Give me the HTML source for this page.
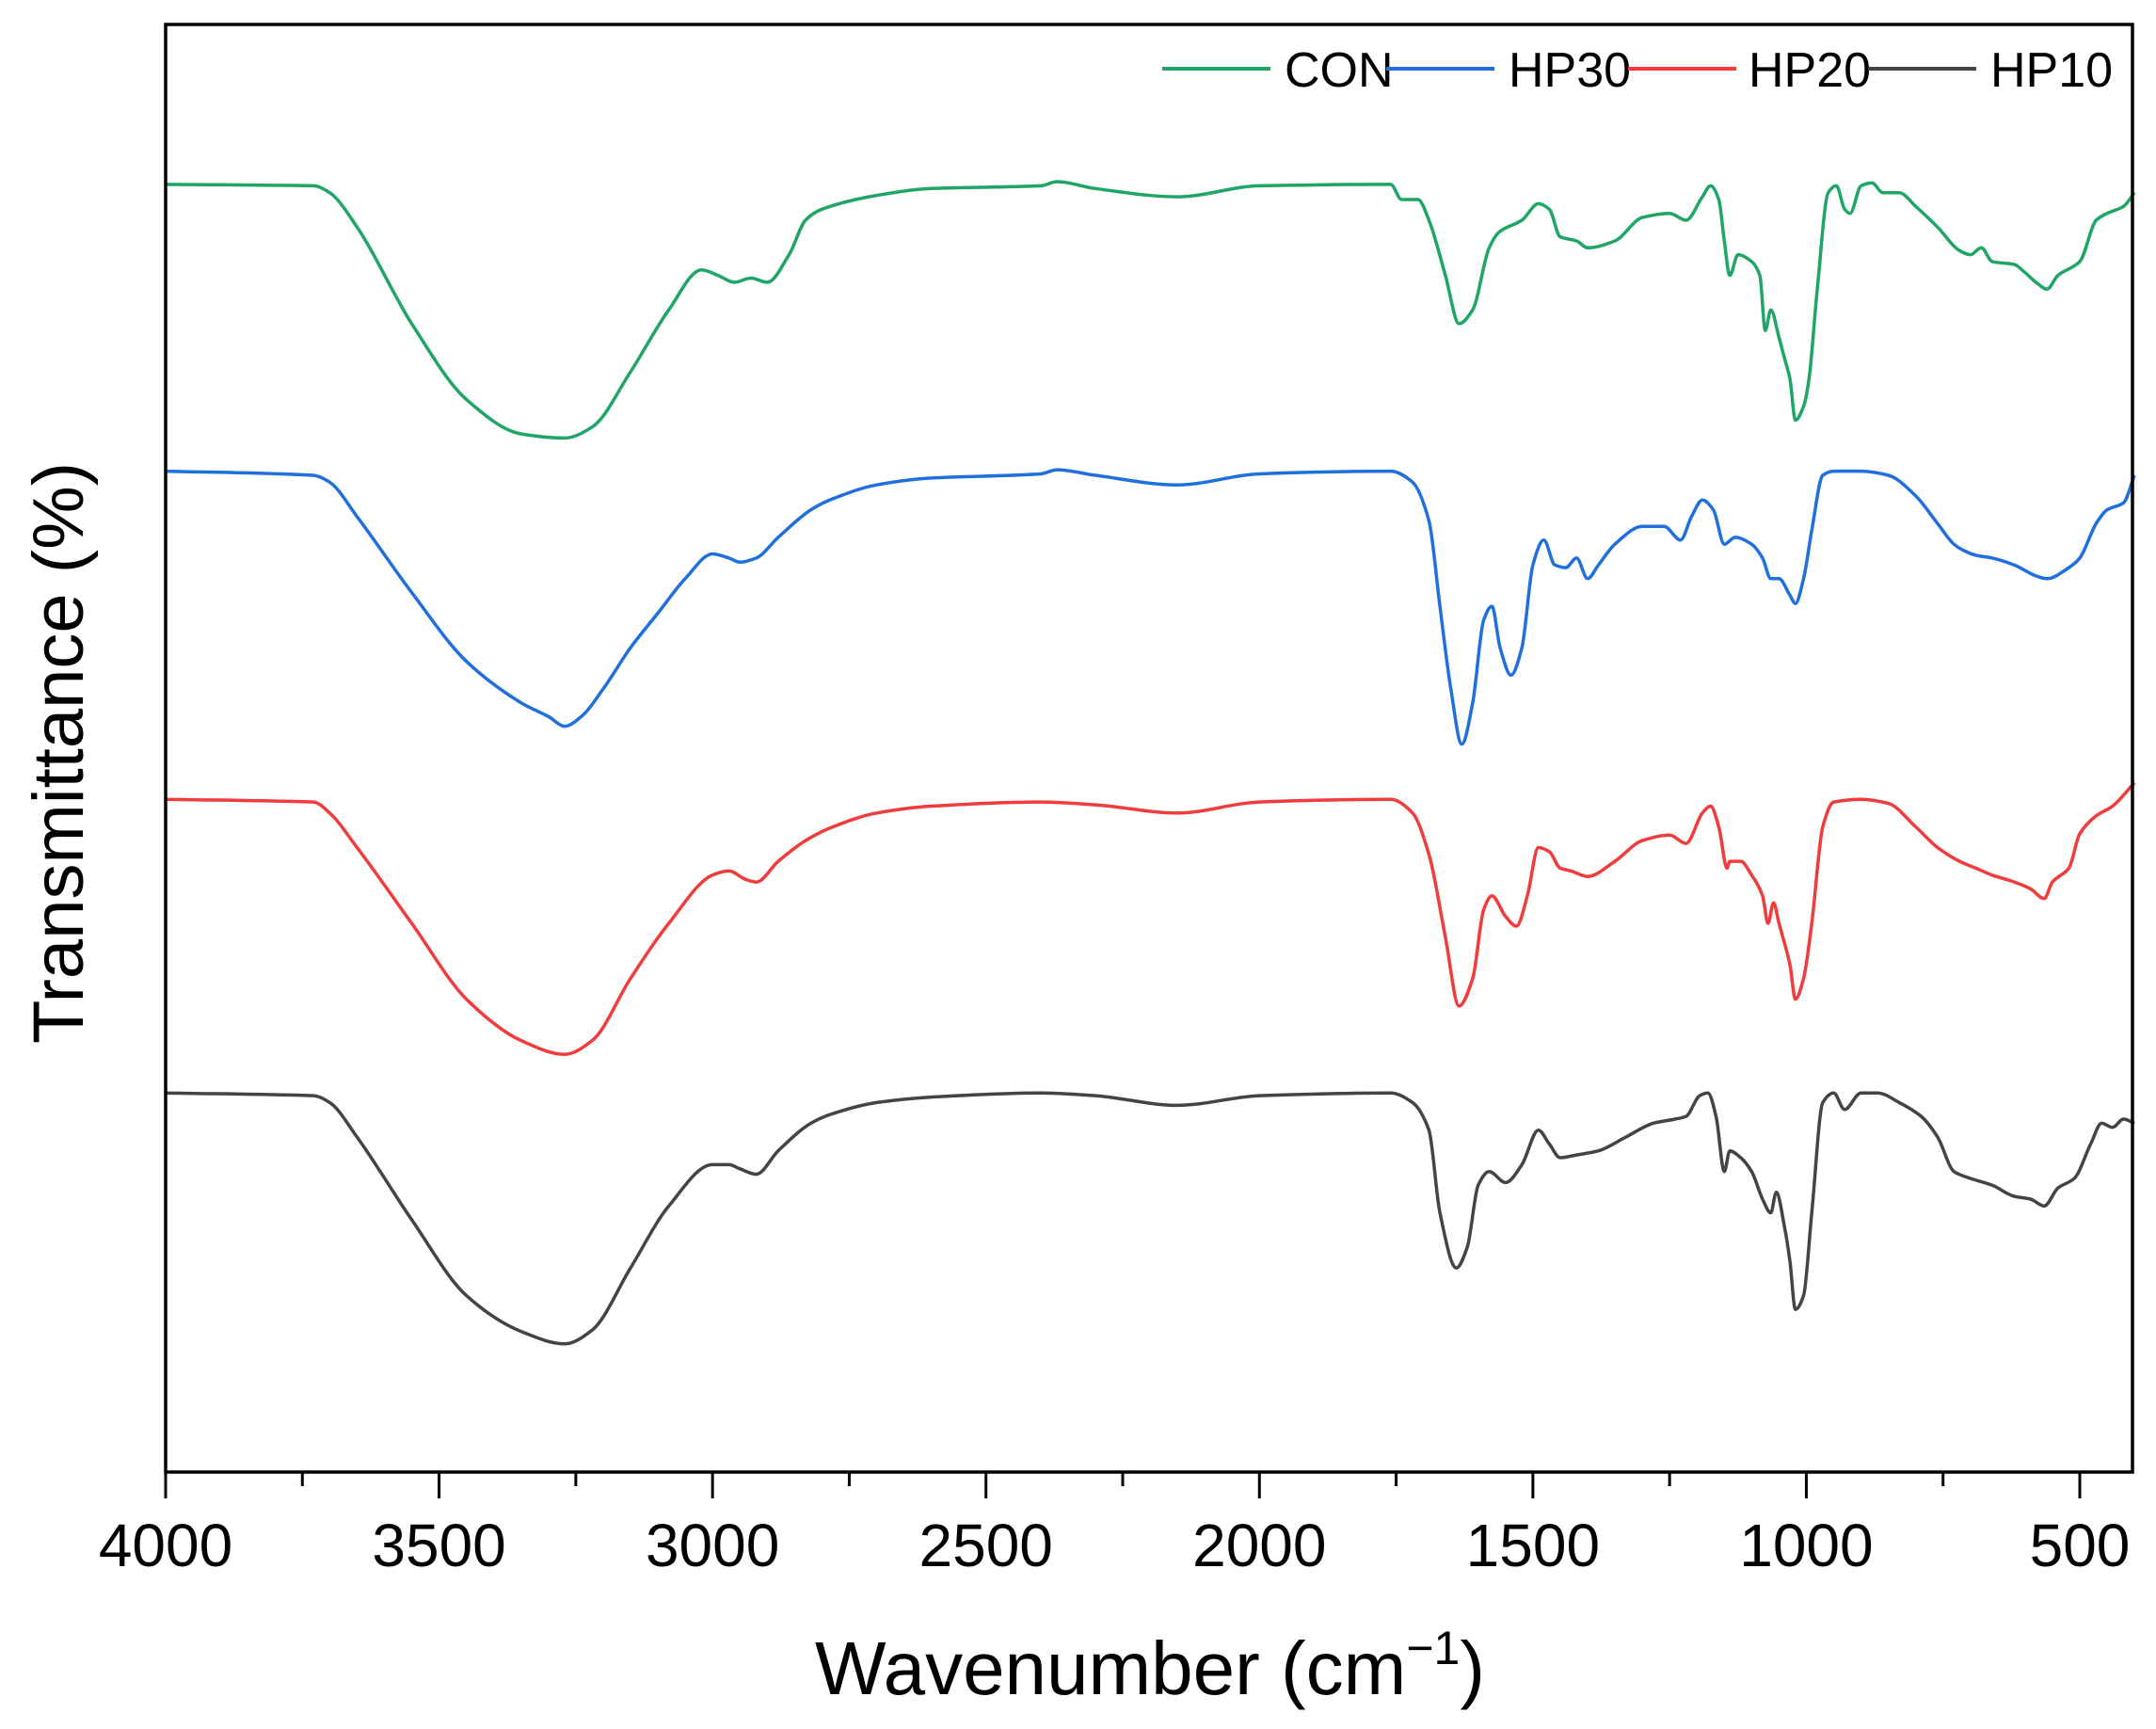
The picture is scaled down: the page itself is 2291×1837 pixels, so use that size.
<!DOCTYPE html>
<html><head><meta charset="utf-8"><style>
html,body{margin:0;padding:0;background:#fff;}
svg{display:block;font-family:"Liberation Sans",Arial,sans-serif;}
</style></head><body>
<svg id="chart" width="2291" height="1837" viewBox="0 0 2291 1837">
<rect x="0" y="0" width="2291" height="1837" fill="#fff"/>
<g id="series"></g>
<g id="axes"></g>
<text x="1222" y="1800" font-size="80" text-anchor="middle" fill="#000">Wavenumber (cm<tspan dy="-32" font-size="50">−1</tspan><tspan dy="32">)</tspan></text>
<text transform="translate(88,800) rotate(-90)" font-size="76" text-anchor="middle" fill="#000">Transmittance (%)</text>
<g id="legend"></g>
</svg>
<script>
// x domain: wavenumber; y values: vertical position in plot units (0 = top of frame, 1050 = bottom)
const xTicksMajor = [4000,3500,3000,2500,2000,1500,1000,500];
const xTicksMinor = [3750,3250,2750,2250,1750,1250,750];
const seriesNames = ["CON","HP30","HP20","HP10"];
const seriesColors = ["#1fa565","#1f6fdf","#f03c3c","#444444"];
const conData = [[4000,134],[3730,135],[3700,140],[3650,165],[3550,235],[3450,290],[3350,315],[3270,318],[3220,310],[3150,270],[3080,225],[3020,196],[2990,200],[2960,205],[2930,202],[2900,205],[2860,185],[2830,160],[2800,152],[2700,142],[2600,137],[2400,135],[2370,132],[2300,137],[2150,143],[2000,135],[1760,134],[1740,145],[1710,145],[1690,160],[1660,200],[1635,235],[1610,225],[1580,180],[1560,168],[1520,160],[1490,148],[1470,152],[1450,172],[1420,175],[1400,180],[1350,175],[1300,158],[1250,155],[1220,160],[1190,143],[1175,135],[1160,145],[1150,175],[1140,200],[1125,185],[1100,190],[1085,200],[1075,240],[1065,225],[1050,245],[1040,260],[1030,275],[1020,305],[1005,295],[995,275],[980,210],[960,140],[945,135],[930,152],[920,155],[900,135],[880,133],[860,140],[830,140],[800,150],[760,165],[720,182],[700,185],[680,180],[660,190],[620,192],[600,198],[580,205],[560,210],[540,200],[500,190],[470,160],[450,155],[420,150],[400,140]];
const hp30Data = [[4000,342],[3730,345],[3700,350],[3650,375],[3550,430],[3450,480],[3350,510],[3300,520],[3270,527],[3240,520],[3200,500],[3150,470],[3100,445],[3050,420],[3000,402],[2970,405],[2950,408],[2920,405],[2880,390],[2820,370],[2780,362],[2700,352],[2600,347],[2400,344],[2370,341],[2300,345],[2150,352],[2000,344],[1760,342],[1720,350],[1690,378],[1670,440],[1650,500],[1630,540],[1610,510],[1590,450],[1575,440],[1560,470],[1540,490],[1520,470],[1500,410],[1480,392],[1460,410],[1440,412],[1420,405],[1400,420],[1380,410],[1350,395],[1300,382],[1260,382],[1230,392],[1210,375],[1190,363],[1170,370],[1150,395],[1130,390],[1100,395],[1080,405],[1065,420],[1050,420],[1030,432],[1020,438],[1005,420],[990,385],[970,345],[950,342],[900,342],[850,345],[800,360],[760,380],[730,395],[710,400],[690,403],[660,405],[620,410],[580,418],[560,420],[520,412],[500,405],[470,380],[450,370],[420,365],[400,345]];
const hp20Data = [[4000,580],[3730,582],[3700,590],[3650,615],[3550,670],[3450,725],[3350,755],[3270,765],[3220,755],[3150,710],[3080,670],[3000,635],[2970,632],[2940,638],[2920,640],[2880,625],[2830,610],[2780,600],[2700,590],[2600,585],[2400,582],[2300,584],[2150,590],[2000,582],[1760,580],[1720,590],[1690,620],[1660,680],[1635,730],[1610,710],[1590,660],[1575,650],[1550,665],[1530,672],[1510,650],[1490,615],[1470,618],[1450,630],[1430,632],[1400,636],[1350,625],[1300,610],[1250,606],[1220,612],[1190,590],[1175,585],[1160,600],[1145,630],[1140,625],[1120,625],[1100,635],[1080,650],[1070,670],[1060,655],[1050,670],[1030,700],[1020,725],[1005,710],[990,670],[970,600],[950,582],[900,580],[850,583],[800,600],[760,615],[720,625],[690,630],[660,635],[620,640],[590,645],[565,652],[550,640],[520,630],[500,605],[470,592],[440,585],[400,568]];
const hp10Data = [[4000,793],[3730,795],[3700,800],[3650,825],[3550,885],[3450,940],[3350,966],[3270,975],[3220,965],[3150,920],[3080,875],[3000,845],[2970,845],[2950,848],[2920,852],[2880,835],[2820,815],[2780,808],[2700,800],[2600,796],[2400,793],[2300,795],[2150,802],[2000,795],[1760,793],[1720,800],[1690,820],[1670,880],[1640,920],[1620,905],[1600,860],[1580,850],[1550,858],[1520,845],[1490,820],[1470,830],[1450,840],[1420,838],[1380,835],[1330,825],[1280,815],[1240,812],[1220,810],[1195,795],[1180,793],[1165,810],[1150,850],[1140,835],[1120,840],[1100,850],[1080,870],[1065,880],[1055,865],[1040,890],[1030,915],[1020,950],[1005,940],[990,880],[970,800],[950,793],[930,805],[900,793],[870,793],[830,800],[790,810],[760,825],[730,850],[700,855],[660,860],[620,868],[590,870],[565,875],[540,862],[510,855],[480,830],[460,815],[440,818],[420,812],[400,815]];

const NS = "http://www.w3.org/2000/svg";
const L = 176, R = 2266, T = 26, B = 1564;
const xScale = w => L + (4000 - w) * (2210 - 176) / 3500;
const yScale = v => T + (v - 18) * (B - T) / 1050;

function slopeAt(pts, i) {
  const n = pts.length;
  if (i === 0) return (pts[1][1] - pts[0][1]) / (pts[1][0] - pts[0][0]);
  if (i === n - 1) return (pts[n-1][1] - pts[n-2][1]) / (pts[n-1][0] - pts[n-2][0]);
  const s0 = (pts[i][1] - pts[i-1][1]) / (pts[i][0] - pts[i-1][0]);
  const s1 = (pts[i+1][1] - pts[i][1]) / (pts[i+1][0] - pts[i][0]);
  if (s0 * s1 <= 0) return 0;
  return 2 / (1 / s0 + 1 / s1);
}
function smoothPath(pts) {
  let d = 'M' + pts[0][0].toFixed(1) + ',' + pts[0][1].toFixed(1);
  for (let i = 0; i < pts.length - 1; i++) {
    const p1 = pts[i], p2 = pts[i + 1];
    const dx = (p2[0] - p1[0]) / 3;
    const m1 = slopeAt(pts, i), m2 = slopeAt(pts, i + 1);
    d += ' C' + (p1[0] + dx).toFixed(1) + ',' + (p1[1] + m1 * dx).toFixed(1) + ' ' + (p2[0] - dx).toFixed(1) + ',' + (p2[1] - m2 * dx).toFixed(1) + ' ' + p2[0].toFixed(1) + ',' + p2[1].toFixed(1);
  }
  return d;
}

const sg = document.getElementById('series');
[conData, hp30Data, hp20Data, hp10Data].forEach((data, i) => {
  const p = document.createElementNS(NS, 'path');
  p.setAttribute('d', smoothPath(data.map(d => [xScale(d[0]), yScale(d[1])])));
  p.setAttribute('fill', 'none');
  p.setAttribute('stroke', seriesColors[i]);
  p.setAttribute('stroke-width', '3.5');
  p.setAttribute('stroke-linejoin', 'round');
  
  
  sg.appendChild(p);
});

const ag = document.getElementById('axes');
const frame = document.createElementNS(NS, 'rect');
frame.setAttribute('x', L); frame.setAttribute('y', T);
frame.setAttribute('width', R - L); frame.setAttribute('height', B - T);
frame.setAttribute('fill', 'none'); frame.setAttribute('stroke', '#000'); frame.setAttribute('stroke-width', '3.5');


ag.appendChild(frame);
xTicksMajor.forEach(t => {
  const x = xScale(t);
  const ln = document.createElementNS(NS, 'line');
  ln.setAttribute('x1', x); ln.setAttribute('x2', x); ln.setAttribute('y1', B); ln.setAttribute('y2', B + 28);
  ln.setAttribute('stroke', '#000'); ln.setAttribute('stroke-width', '3');
  
  
  ag.appendChild(ln);
  const tx = document.createElementNS(NS, 'text');
  tx.setAttribute('x', x); tx.setAttribute('y', 1664);
  tx.setAttribute('font-size', '64'); tx.setAttribute('text-anchor', 'middle');
  tx.textContent = t;
  
  
  ag.appendChild(tx);
});
xTicksMinor.forEach(t => {
  const x = xScale(t);
  const ln = document.createElementNS(NS, 'line');
  ln.setAttribute('x1', x); ln.setAttribute('x2', x); ln.setAttribute('y1', B); ln.setAttribute('y2', B + 15);
  ln.setAttribute('stroke', '#000'); ln.setAttribute('stroke-width', '3');
  
  
  ag.appendChild(ln);
});

const lg = document.getElementById('legend');
const legendLineX = [1235, 1473, 1730, 1985];
const legendTextX = [1365, 1603, 1858, 2115];
seriesNames.forEach((n, i) => {
  const ln = document.createElementNS(NS, 'line');
  ln.setAttribute('x1', legendLineX[i]); ln.setAttribute('x2', legendLineX[i] + 115);
  ln.setAttribute('y1', 73); ln.setAttribute('y2', 73);
  ln.setAttribute('stroke', seriesColors[i]); ln.setAttribute('stroke-width', '4');
  
  
  lg.appendChild(ln);
  const tx = document.createElementNS(NS, 'text');
  tx.setAttribute('x', legendTextX[i]); tx.setAttribute('y', 92);
  tx.setAttribute('font-size', '52');
  tx.textContent = n;
  
  
  lg.appendChild(tx);
});
</script>
</body></html>
